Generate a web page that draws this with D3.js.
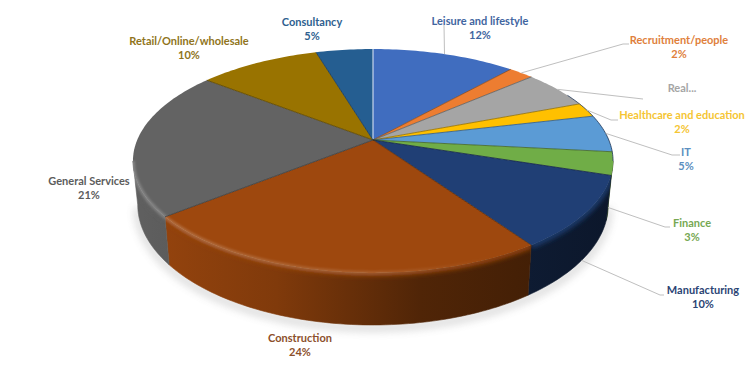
<!DOCTYPE html>
<html>
<head>
<meta charset="utf-8">
<script src="https://cdn.jsdelivr.net/npm/d3@7"></script>
<style>
  html, body { margin: 0; padding: 0; background: #fff; }
  text { font-family: Lato, "Open Sans", sans-serif; font-weight: 700; font-size: 11px; text-anchor: middle; }
</style>
</head>
<body>
<div id="wrapper"></div>
<script>
// data (percent of the pie, clockwise from 12 o'clock)
const categories = ["Leisure and lifestyle", "Recruitment/people", "Real...", "Healthcare and education", "IT", "Finance", "Manufacturing", "Construction", "General Services", "Retail/Online/wholesale", "Consultancy"]
const shares = [11.6, 2.0, 5.6, 2.1, 5.4, 3.3, 10.4, 23.8, 21.4, 9.8, 4.6]
const showPercent = [true, true, false, true, true, true, true, true, true, true, true]

const colors = ["#406dbf", "#ed7d31", "#a5a5a5", "#ffc000", "#5b9bd5", "#70ad47", "#203f75", "#9e480e", "#636363", "#997300", "#255e91"]
const labelColors = ["#41659f", "#e07f3c", "#a5a5a5", "#f5c533", "#5b8fc0", "#76a852", "#2b4474", "#8c4f2b", "#5c5c5c", "#8f7420", "#2f5f8f"]

// label layout: text centre and first baseline, then the elbow of the leader line (if any)
const labelX = [480, 679, 682, 682, 686, 692, 703, 300, 89, 189, 312]
const labelY = [25, 44, 92, 119, 156, 227, 294, 342, 185, 45, 26]
const elbows = [[[444, 25]], [[623, 44], [629, 44]], [[643, 99]], [[611, 120], [618, 120]], [[672, 155], [680, 155]], [[665, 227], [670, 227]], [[660, 295], [664, 295]], null, null, null, null]

const width = 747
const height = 369

// pie geometry: a circle seen in perspective
const cx = 373
const cy = 140
const radiusX = 235.8
const radiusY = 108
const tilt = 0.1875
const thickness = 42.3
const bottomShrink = 0.98

const project = (angle, drop = false) => {
  const u = Math.sin(angle)
  const v = -Math.cos(angle)
  const d = 1 - tilt * v
  const x = radiusX * u / d
  const y = cy + radiusY * v / d
  return drop ? [cx + x * bottomShrink, y + thickness / d] : [cx + x, y]
}

const arcAngles = (a0, a1) => {
  const n = Math.max(2, Math.ceil((a1 - a0) / 0.02))
  return d3.range(n + 1).map(i => a0 + (a1 - a0) * i / n)
}

const line = d3.line()
const wedgePath = d => line([[cx, cy], ...arcAngles(d.startAngle, d.endAngle).map(a => project(a))]) + "Z"

const slices = d3.pie().sort(null).value(d => d)(shares)

const svg = d3.select("#wrapper").append("svg")
  .attr("width", width)
  .attr("height", height)
  .style("display", "block")

const defs = svg.append("defs")
defs.append("filter").attr("id", "soft").attr("x", "-10%").attr("y", "-10%").attr("width", "120%").attr("height", "120%")
  .append("feGaussianBlur").attr("stdDeviation", 4)
defs.append("filter").attr("id", "softer").attr("x", "-10%").attr("y", "-30%").attr("width", "120%").attr("height", "160%")
  .append("feGaussianBlur").attr("stdDeviation", 2.4)
defs.append("filter").attr("id", "softest").attr("x", "-10%").attr("y", "-30%").attr("width", "120%").attr("height", "160%")
  .append("feGaussianBlur").attr("stdDeviation", 1.2)

// which part of the rim has a visible wall
const wallFrom = Math.PI - Math.acos(tilt)
const wallTo = Math.PI + Math.acos(tilt)

// soft shadow under the pie
const bottomRim = arcAngles(wallFrom, wallTo).map(a => project(a, true))
svg.append("path")
  .attr("d", line(bottomRim.map(p => [p[0], p[1] + 3])))
  .attr("fill", "none")
  .attr("stroke", "#8a8a8a")
  .attr("stroke-width", 5)
  .attr("opacity", 0.45)
  .attr("filter", "url(#soft)")

// walls
slices.forEach((d, i) => {
  const a0 = Math.max(d.startAngle, wallFrom)
  const a1 = Math.min(d.endAngle, wallTo)
  if (a1 <= a0) return
  const angles = arcAngles(a0, a1)
  const wall = [...angles.map(a => project(a)), ...angles.slice().reverse().map(a => project(a, true))]

  const grad = defs.append("linearGradient")
    .attr("id", `wall${i}`)
    .attr("gradientUnits", "userSpaceOnUse")
    .attr("x1", 133).attr("x2", 612).attr("y1", 0).attr("y2", 0)
  const base = d3.color(colors[i])
  grad.append("stop").attr("offset", 0).attr("stop-color", base.darker(0.1))
  grad.append("stop").attr("offset", 0.3).attr("stop-color", base.darker(0.6))
  grad.append("stop").attr("offset", 0.6).attr("stop-color", base.darker(1.9))
  grad.append("stop").attr("offset", 1).attr("stop-color", base.darker(2.8))

  const clipId = `wallClip${i}`
  defs.append("clipPath").attr("id", clipId).append("path").attr("d", line(wall) + "Z")

  // small stroke closes the seam between neighbouring walls
  svg.append("path")
    .attr("d", line(wall) + "Z")
    .attr("fill", `url(#wall${i})`)
    .attr("stroke", `url(#wall${i})`)
    .attr("stroke-width", 0.6)

  // light falling over the bevel at the top of the wall
  svg.append("path")
    .attr("d", line(angles.map(a => project(a))))
    .attr("fill", "none")
    .attr("stroke", base.darker(0.1))
    .attr("stroke-width", 6)
    .attr("filter", "url(#softer)")
    .attr("clip-path", `url(#${clipId})`)
})

// top faces
slices.forEach((d, i) => {
  svg.append("path")
    .attr("d", wedgePath(d))
    .attr("fill", colors[i])
})

// brighter bevel along the front rim, fading out to the right
const bevel = defs.append("linearGradient")
  .attr("id", "bevel")
  .attr("gradientUnits", "userSpaceOnUse")
  .attr("x1", 133).attr("x2", 612).attr("y1", 0).attr("y2", 0)
bevel.append("stop").attr("offset", 0).attr("stop-color", "#fff").attr("stop-opacity", 0.2)
bevel.append("stop").attr("offset", 0.5).attr("stop-color", "#fff").attr("stop-opacity", 0.12)
bevel.append("stop").attr("offset", 0.75).attr("stop-color", "#fff").attr("stop-opacity", 0)
svg.append("path")
  .attr("d", line(arcAngles(wallFrom, wallTo).map(a => project(a))))
  .attr("fill", "none")
  .attr("stroke", "url(#bevel)")
  .attr("stroke-width", 4)
  .attr("filter", "url(#softest)")

// thin dark edge on the upper right of the rim
svg.append("path")
  .attr("d", line(arcAngles(slices[2].endAngle - 0.1, wallFrom).map(a => project(a))))
  .attr("fill", "none")
  .attr("stroke", "#1d3557")
  .attr("stroke-width", 0.8)

// seams between the slices
slices.forEach((d, i) => {
  svg.append("path")
    .attr("d", line([[cx, cy], project(d.startAngle)]))
    .attr("stroke", i === 0 ? "#e4ecf7" : d3.color(colors[i]).darker(1.6))
    .attr("stroke-width", i === 0 ? 1 : 0.8)
})

// leader lines start on the rim at the middle of the slice, on the wall when it is on the front
const leader = d3.line()
slices.forEach((d, i) => {
  if (!elbows[i]) return
  const mid = (d.startAngle + d.endAngle) / 2
  const start = project(mid, mid > wallFrom - 0.25)
  svg.append("path")
    .attr("d", leader([start, ...elbows[i]]))
    .attr("fill", "none")
    .attr("stroke", "#bfbfbf")
    .attr("stroke-width", 1)
})

// labels
const fmt = d3.format(".0f")
const labels = svg.selectAll("g.label")
  .data(slices)
  .join("g")
  .attr("class", "label")
  .attr("fill", (d, i) => labelColors[i])

labels.append("text")
  .attr("x", (d, i) => labelX[i])
  .attr("y", (d, i) => labelY[i])
  .text((d, i) => categories[i])

labels.filter((d, i) => showPercent[i]).append("text")
  .attr("x", d => labelX[d.index])
  .attr("y", d => labelY[d.index] + 14)
  .text(d => fmt(d.value) + "%")
</script>
</body>
</html>
